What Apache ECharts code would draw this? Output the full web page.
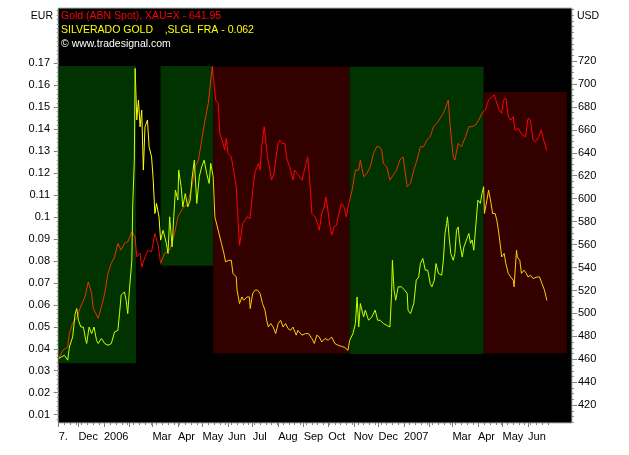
<!DOCTYPE html>
<html><head><meta charset="utf-8">
<script src="https://cdn.jsdelivr.net/npm/echarts@6/dist/echarts.min.js"></script>
<style>html,body{margin:0;padding:0;background:#fff}#c{width:629px;height:455px}</style>
</head><body><div id="c"></div>
<script>
// ---- data (x = calendar days since startDate) ----
const startDate = '2005-11-07';

const goldDay = [0,5,11,13,17,23,26,32,36,40,42,48,52,56,60,64,68,72,76,80,84,89,93,95,99,101,105,109,113,117,121,124,129,135,141,145,151,157,162,166,170,174,178,182,185,187,191,194,196,200,202,204,206,210,212,216,218,220,224,227,229,233,236,239,243,245,247,250,252,254,257,259,262,264,267,269,272,275,278,281,285,287,290,293,296,298,301,303,306,308,312,315,317,320,323,325,327,329,332,335,338,341,344,347,350,352,357,361,365,367,371,375,379,383,387,390,393,395,399,403,407,411,415,419,424,428,432,436,440,444,448,452,456,460,464,468,471,474,476,480,482,486,490,495,499,503,507,511,515,519,523,527,530,533,536,539,541,544,547,550,553,555,559,564,568,571,574,577,580,584,587,590,594];
const goldValue = [460.7,467.9,470.8,482.8,491.5,497,504.6,514.4,527.5,517.6,504.6,495.8,505.7,517.6,535.1,543.8,549.3,561,555.2,561,562.4,571.1,566.8,549.3,552.5,540.6,549.3,555.2,553.7,569.7,559.5,543.6,552.5,555.2,569.7,584.2,591.5,595.9,610.4,627.8,633.7,651.1,668.5,683.1,703.4,715,686,683.4,656.9,648.2,642.4,652.8,639.5,636.5,627.8,610.4,584.2,559.5,578.4,581.3,584.2,582.8,607.5,623.4,630.8,624.9,645.3,662.7,662.7,636.5,624.9,616.2,622.1,633.7,648.2,651.1,648.2,648.2,633.7,627.8,616.2,624.9,622.1,619.1,616.2,622.1,630.8,636.5,610.4,587.2,584.2,578.4,572.6,587.2,592.9,601.6,592.9,581.3,568.2,575.5,577,587.2,595.9,592.9,584.2,592.9,607.5,624.9,624.9,633.7,619.1,622.1,627.8,639.5,645.3,645.3,642.4,630.8,627.8,616.2,620.6,624.9,633.7,636.5,610.4,613.3,624.9,633.7,645.3,645.3,651.1,654,662.7,665.7,670,674.4,680.1,686,665.7,636.5,633.7,648.2,645.3,654,662.7,662.7,664.2,668.5,674.4,677.3,686,688.9,690.3,683.1,677.3,674.4,686,687.5,671.4,668.5,671.4,659.8,661.3,655.5,654,670,668.5,651.1,649.6,654,659.8,651.1,641.95];

const slglDay = [0,3,7,11,13,17,20,22,24,27,30,33,34,37,40,43,46,48,52,56,60,64,68,72,74,76,80,82,84,86,89,90,92,93,95,97,99,101,103,105,108,110,113,115,117,119,122,124,127,131,133,135,138,140,142,145,146,149,151,154,157,160,162,165,168,171,174,177,180,183,185,188,190,194,198,201,203,207,210,212,216,217,220,223,225,229,232,233,236,239,242,245,248,251,253,255,258,261,264,267,270,273,276,279,282,285,289,291,296,300,304,308,311,314,317,320,324,328,332,336,340,344,348,352,354,358,361,363,365,367,371,373,377,381,385,388,391,395,399,403,405,406,408,410,413,417,421,424,425,428,432,435,438,440,443,446,449,452,454,457,459,462,466,468,470,472,473,475,477,480,482,484,486,488,491,493,496,499,501,503,505,507,509,510,513,515,517,518,521,523,526,528,531,533,535,537,539,542,544,547,550,553,554,557,558,561,563,566,569,571,574,577,582,585,588,591,594];
const slglValue = [0.0355,0.0363,0.0370,0.0348,0.0408,0.0454,0.0560,0.0583,0.0530,0.0499,0.0499,0.0439,0.0424,0.0499,0.0469,0.0499,0.0439,0.0424,0.0447,0.0424,0.0416,0.0424,0.0477,0.0484,0.0560,0.0644,0.0659,0.0621,0.0560,0.0667,0.0803,0.1046,0.1259,0.1677,0.1442,0.1533,0.1411,0.1487,0.1214,0.1411,0.1442,0.1320,0.1274,0.1168,0.1016,0.1062,0.1001,0.0895,0.0940,0.0880,0.0834,0.1001,0.0864,0.1001,0.1123,0.1077,0.1214,0.1138,0.1046,0.1107,0.1046,0.1077,0.1168,0.1259,0.1062,0.1183,0.1229,0.1259,0.1199,0.1153,0.1244,0.1183,0.1001,0.0940,0.0880,0.0834,0.0796,0.0803,0.0803,0.0743,0.0727,0.0667,0.0606,0.0636,0.0621,0.0636,0.0636,0.0583,0.0652,0.0667,0.0667,0.0652,0.0606,0.0576,0.0530,0.0499,0.0515,0.0499,0.0469,0.0515,0.0530,0.0499,0.0515,0.0492,0.0484,0.0499,0.0462,0.0484,0.0462,0.0469,0.0469,0.0447,0.0424,0.0462,0.0454,0.0431,0.0447,0.0439,0.0454,0.0424,0.0416,0.0411,0.0406,0.0393,0.0439,0.0469,0.0515,0.0636,0.0499,0.0606,0.0545,0.0576,0.0530,0.0545,0.0576,0.0530,0.0530,0.0515,0.0507,0.0499,0.0652,0.0803,0.0667,0.0621,0.0682,0.0682,0.0667,0.0652,0.0576,0.0560,0.0606,0.0712,0.0727,0.0788,0.0811,0.0758,0.0758,0.0697,0.0682,0.0712,0.0788,0.0743,0.0735,0.0803,0.0925,0.0971,0.1001,0.0910,0.0834,0.0803,0.0834,0.0940,0.0955,0.0880,0.0818,0.0864,0.0895,0.0925,0.0880,0.0895,0.0849,0.0940,0.1031,0.1077,0.1062,0.1107,0.1138,0.1016,0.1077,0.1123,0.1062,0.1016,0.1016,0.0986,0.0940,0.0880,0.0818,0.0834,0.0788,0.0743,0.0727,0.0712,0.0682,0.0849,0.0818,0.0803,0.0743,0.0758,0.0743,0.0727,0.0735,0.0720,0.0727,0.0727,0.0697,0.0667,0.062];

// trend zones (days, USD range)
const zoneStartDay = [0, 124, 188, 354, 517];
const zoneEndDay   = [94, 188, 354, 517, 618];
const zoneLowUSD   = [456.6, 541.5, 465, 464.7, 465.3];
const zoneHighUSD  = [715.6, 715.6, 715, 715, 693];
const zoneTrend    = ['up', 'up', 'down', 'up', 'down'];

// axis ticks / labels
const xLabelDates = ['2005-11-07','2005-12-01','2006-01-01','2006-03-01','2006-04-01','2006-05-01','2006-06-01','2006-07-01','2006-08-01','2006-09-01','2006-10-01','2006-11-01','2006-12-01','2007-01-01','2007-03-01','2007-04-01','2007-05-01','2007-06-01'];
const xLabelTexts = ['7.','Dec','2006','Mar','Apr','May','Jun','Jul','Aug','Sep','Oct','Nov','Dec','2007','Mar','Apr','May','Jun'];
const xExtraTickDates = ['2006-02-01','2007-02-01'];
const eurTicks = [0.01,0.02,0.03,0.04,0.05,0.06,0.07,0.08,0.09,0.1,0.11,0.12,0.13,0.14,0.15,0.16,0.17];
const usdTicks = [420,440,460,480,500,520,540,560,580,600,620,640,660,680,700,720];

const goldLegend = 'Gold (ABN Spot), XAU=X - 641.95';
const slglLegend = 'SILVERADO GOLD    ,SLGL FRA - 0.062';
const copyright = '\u00A9 www.tradesignal.com';

// ---- build ----
const DAY = 86400000;
const dayOf = s => Math.round((Date.parse(s) - Date.parse(startDate)) / DAY);
const xLabelDays = xLabelDates.map(dayOf);
const labelMap = {};
xLabelDays.forEach((d, i) => labelMap[d] = xLabelTexts[i]);
const monthTickDays = xLabelDays.concat(xExtraTickDates.map(dayOf)).sort((a,b)=>a-b);
const weekTickDays = [];
for (let d = 0; d <= 595; d += 7) weekTickDays.push(d);
const eurMinor = []; for (let k = 4; k <= 97; k++) eurMinor.push(+(k * 0.002).toFixed(3));
const usdMinor = []; for (let v = 405; v <= 765; v += 5) usdMinor.push(v);

const ZONE_BG = { up: '#003300', down: '#330000' };
const GOLD_COL = { up: '#e83400', down: '#ff0000', none: '#ff0000' };
const SLGL_COL = { up: '#ccff00', down: '#ffcc00', none: '#ffff00' };

const FONT = '"Liberation Sans", Arial, sans-serif';
const GRID = { left: 58, right: 57, top: 8, bottom: 32 };
const X_MIN = -0.85, X_MAX = 624.5;
const EUR_MIN = 0.0062, EUR_MAX = 0.1952;
const USD_MIN = 404.5, USD_MAX = 766.2;

const pieces = (cols) => zoneStartDay.map((s, i) => ({ gte: s, lt: zoneEndDay[i], color: cols[zoneTrend[i]] }));

const chart = echarts.init(document.getElementById('c'), null, { renderer: 'canvas' });
chart.setOption({
  animation: false,
  backgroundColor: '#ffffff',
  grid: Object.assign({ show: true, backgroundColor: '#000000', borderColor: '#a8bca8', borderWidth: 1 }, GRID),
  xAxis: [
    { type: 'value', min: X_MIN, max: X_MAX, position: 'bottom',
      splitLine: { show: false }, axisLine: { show: false },
      axisTick: { show: true, customValues: monthTickDays, length: 4, lineStyle: { color: '#808080' } },
      axisLabel: { customValues: xLabelDays, formatter: v => labelMap[Math.round(v)] || '',
        align: 'left', margin: 8, color: '#000', fontFamily: FONT, fontSize: 11 } },
    { type: 'value', min: X_MIN, max: X_MAX, position: 'bottom',
      splitLine: { show: false }, axisLine: { show: false }, axisLabel: { show: false },
      axisTick: { show: true, customValues: weekTickDays, length: 2, lineStyle: { color: '#808080' } } }
  ],
  yAxis: [
    { type: 'value', min: EUR_MIN, max: EUR_MAX, position: 'left',
      splitLine: { show: false }, axisLine: { show: false },
      axisTick: { show: true, customValues: eurTicks, length: 5, lineStyle: { color: '#808080' } },
      axisLabel: { customValues: eurTicks, formatter: v => String(+(+v).toFixed(2)),
        margin: 8, color: '#000', fontFamily: FONT, fontSize: 11 } },
    { type: 'value', min: EUR_MIN, max: EUR_MAX, position: 'left',
      splitLine: { show: false }, axisLine: { show: false }, axisLabel: { show: false },
      axisTick: { show: true, customValues: eurMinor, length: 2, lineStyle: { color: '#909090' } } },
    { type: 'value', min: USD_MIN, max: USD_MAX, position: 'right',
      splitLine: { show: false }, axisLine: { show: false },
      axisTick: { show: true, customValues: usdTicks, length: 5, lineStyle: { color: '#808080' } },
      axisLabel: { customValues: usdTicks, margin: 6, color: '#000', fontFamily: FONT, fontSize: 11 } },
    { type: 'value', min: USD_MIN, max: USD_MAX, position: 'right',
      splitLine: { show: false }, axisLine: { show: false }, axisLabel: { show: false },
      axisTick: { show: true, customValues: usdMinor, length: 2, lineStyle: { color: '#909090' } } }
  ],
  visualMap: [
    { type: 'piecewise', show: false, seriesIndex: 1, dimension: 0, pieces: pieces(GOLD_COL), outOfRange: { color: GOLD_COL.none } },
    { type: 'piecewise', show: false, seriesIndex: 2, dimension: 0, pieces: pieces(SLGL_COL), outOfRange: { color: SLGL_COL.none } }
  ],
  series: [
    { name: 'zones', type: 'line', xAxisIndex: 0, yAxisIndex: 2, data: [], z: 1, silent: true,
      markArea: { silent: true, data: zoneStartDay.map((s, i) => [
        { xAxis: s, yAxis: zoneHighUSD[i], itemStyle: { color: ZONE_BG[zoneTrend[i]], borderWidth: 0 } },
        { xAxis: zoneEndDay[i], yAxis: zoneLowUSD[i] }
      ]) } },
    { name: 'Gold', type: 'line', xAxisIndex: 0, yAxisIndex: 2, z: 3, symbol: 'none',
      lineStyle: { width: 1 }, data: goldDay.map((d, i) => [d, goldValue[i]]) },
    { name: 'SLGL', type: 'line', xAxisIndex: 0, yAxisIndex: 0, z: 4, symbol: 'none',
      lineStyle: { width: 1 }, data: slglDay.map((d, i) => [d, slglValue[i]]) }
  ],
  graphic: [
    { type: 'text', left: 61, top: 11, z: 10, style: { text: goldLegend, fill: '#ff0000', font: '10.5px ' + FONT } },
    { type: 'text', left: 61, top: 25, z: 10, style: { text: slglLegend, fill: '#ffff00', font: '10.5px ' + FONT } },
    { type: 'text', left: 61, top: 38.5, z: 10, style: { text: copyright, fill: '#ffffff', font: '10.5px ' + FONT } },
    { type: 'text', right: 576, top: 11, z: 10, style: { text: 'EUR', fill: '#000000', font: '10.5px ' + FONT } },
    { type: 'text', left: 577, top: 11, z: 10, style: { text: 'USD', fill: '#000000', font: '10.5px ' + FONT } }
  ]
});
</script></body></html>
